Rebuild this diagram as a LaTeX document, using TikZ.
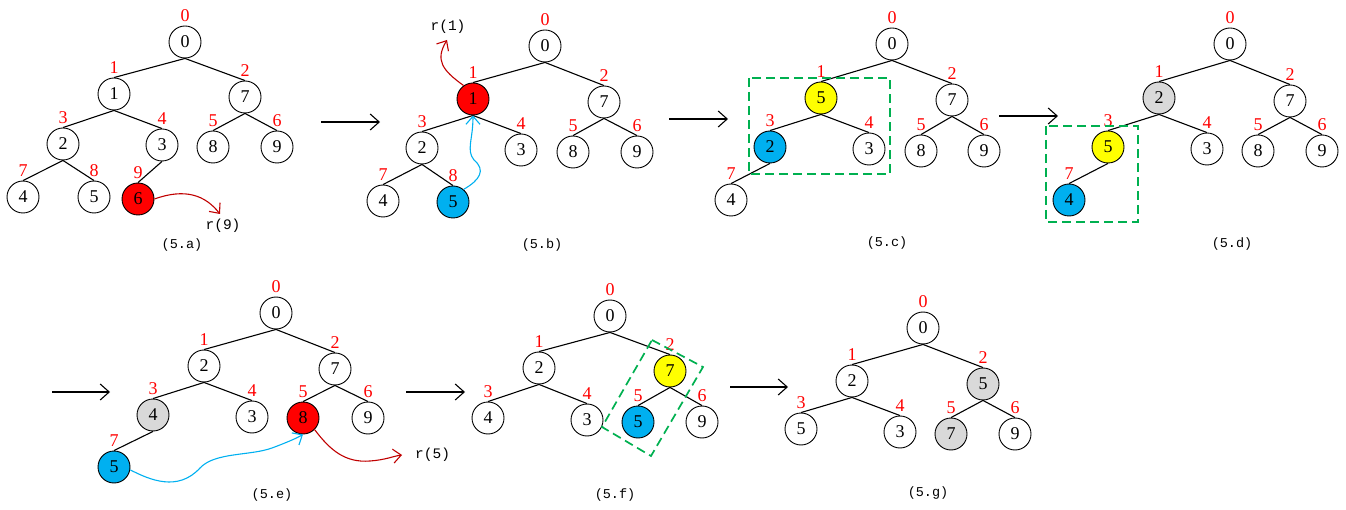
\documentclass[tikz,border=0pt]{standalone}
\usepackage{fontspec}
\setmainfont{Liberation Serif}
\newfontfamily\monof{Liberation Mono}
\usetikzlibrary{arrows.meta}
\definecolor{hred}{HTML}{FF0000}
\definecolor{dred}{HTML}{C00000}
\definecolor{hblue}{HTML}{00B0F0}
\definecolor{hyellow}{HTML}{FFFF00}
\definecolor{hgray}{HTML}{D9D9D9}
\definecolor{hgreen}{HTML}{00B050}
\tikzset{
  nd/.style={circle,draw=black,line width=0.9pt,minimum size=32pt,inner sep=0pt,font=\fontsize{18}{18}\selectfont},
  lbl/.style={text=hred,inner sep=0pt,font=\fontsize{18}{18}\selectfont,label distance=3.5pt},
  lab/.style={label={[lbl]90:#1}},
  rn/.style={nd,fill=hred},
  bn/.style={nd,fill=hblue},
  yn/.style={nd,fill=hyellow},
  gn/.style={nd,fill=hgray},
  edge/.style={draw=black,line width=1.1pt},
  bigarrow/.style={draw=black,line width=1.1pt,-{Straight Barb[length=9pt,width=16pt,line width=1.1pt]}},
  redarr/.style={draw=dred,line width=1.1pt,-{Straight Barb[length=8pt,width=14pt,line width=1.1pt]}},
  bluearr/.style={draw=hblue,line width=1.1pt,-{Straight Barb[length=8pt,width=14pt,line width=1.1pt]}},
  greenbox/.style={draw=hgreen,line width=1.7pt,dash pattern=on 9pt off 5pt},
  captxt/.style={font=\monof\fontsize{13.5}{13.5}\selectfont,inner sep=0pt},
  rtxt/.style={font=\monof\fontsize{14.5}{14.5}\selectfont,inner sep=0pt}
}
\begin{document}
\begin{tikzpicture}[x=1pt,y=-1pt]
\useasboundingbox (0,0) rectangle (1346,510);
% ---------- (5.a)
\node[nd,lab=0] (a0) at (185,42) {0};
\node[nd,lab=1] (a1) at (114,94) {1};
\node[nd,lab=2] (a2) at (245,97) {7};
\node[nd,lab=3] (a3) at (63,144) {2};
\node[nd,lab=4] (a4) at (162,145) {3};
\node[nd,lab=5] (a5) at (213,147) {8};
\node[nd,lab=6] (a6) at (277,147) {9};
\node[nd,lab=7] (a7) at (23,197) {4};
\node[nd,lab=8] (a8) at (94,197) {5};
\node[rn,lab=9] (a9) at (138,199) {6};
\foreach \p/\c in {a0/a1,a0/a2,a1/a3,a1/a4,a2/a5,a2/a6,a3/a7,a3/a8,a4/a9}
  \draw[edge] (\p.south) -- (\c.north);
\node[rtxt] (ra) at (223,226) {r(9)};
\coordinate (rae) at (220,214);
\draw[redarr] (a9.east) .. controls (185,188) and (205,195) .. (rae);
\node[captxt] (capa) at (182,245) {(5.a)};
% ---------- arrows row 1
\coordinate (s1) at (321,122); \coordinate (t1) at (380,122);
\draw[bigarrow] (s1) -- (t1);
\coordinate (s2) at (669,119); \coordinate (t2) at (728,119);
\draw[bigarrow] (s2) -- (t2);
\coordinate (s3) at (999,116); \coordinate (t3) at (1058,116);
\draw[bigarrow] (s3) -- (t3);
% ---------- (5.b)
\node[nd,lab=0] (b0) at (545,46) {0};
\node[rn,lab=1] (b1) at (473,99) {1};
\node[nd,lab=2] (b2) at (604,102) {7};
\node[nd,lab=3] (b3) at (422,148) {2};
\node[nd,lab=4] (b4) at (521,150) {3};
\node[nd,lab=5] (b5) at (573,152) {8};
\node[nd,lab=6] (b6) at (637,152) {9};
\node[nd,lab=7] (b7) at (383,201) {4};
\node[bn,lab=8] (b8) at (453,202) {5};
\foreach \p/\c in {b0/b1,b0/b2,b1/b3,b1/b4,b2/b5,b2/b6,b3/b7,b3/b8}
  \draw[edge] (\p.south) -- (\c.north);
\node[rtxt] (rb) at (448,27) {r(1)};
\coordinate (rbe) at (447,40);
\draw[redarr] (b1.125) .. controls (442,70) and (435,60) .. (rbe);
\draw[bluearr] (b8.50) .. controls (480,180) and (486,170) .. (474,160)
   .. controls (466,150) and (473,140) .. (b1.south);
\node[captxt] (capb) at (542,245) {(5.b)};
% ---------- (5.c)
\node[nd,lab=0] (c0) at (892,44) {0};
\node[yn,lab=1] (c1) at (821,98) {5};
\node[nd,lab=2] (c2) at (952,100) {7};
\node[bn,lab=3] (c3) at (770,147) {2};
\node[nd,lab=4] (c4) at (869,149) {3};
\node[nd,lab=5] (c5) at (921,151) {8};
\node[nd,lab=6] (c6) at (984,151) {9};
\node[nd,lab=7] (c7) at (731,200) {4};
\foreach \p/\c in {c0/c1,c0/c2,c1/c3,c1/c4,c2/c5,c2/c6,c3/c7}
  \draw[edge] (\p.south) -- (\c.north);
\draw[greenbox] (749,78) rectangle (890,174);
\node[captxt] (capc) at (887,243) {(5.c)};
% ---------- (5.d)
\node[nd,lab=0] (d0) at (1230,44) {0};
\node[gn,lab=1] (d1) at (1159,98) {2};
\node[nd,lab=2] (d2) at (1290,101) {7};
\node[yn,lab=3] (d3) at (1108,147) {5};
\node[nd,lab=4] (d4) at (1207,149) {3};
\node[nd,lab=5] (d5) at (1258,151) {8};
\node[nd,lab=6] (d6) at (1322,151) {9};
\node[bn,lab=7] (d7) at (1069,200) {4};
\foreach \p/\c in {d0/d1,d0/d2,d1/d3,d1/d4,d2/d5,d2/d6,d3/d7}
  \draw[edge] (\p.south) -- (\c.north);
\draw[greenbox] (1046,126) rectangle (1138,222);
\node[captxt] (capd) at (1232,244) {(5.d)};
% ---------- arrows row 2
\coordinate (s4) at (52,392); \coordinate (t4) at (110,392);
\draw[bigarrow] (s4) -- (t4);
\coordinate (s5) at (406,392); \coordinate (t5) at (465,392);
\draw[bigarrow] (s5) -- (t5);
\coordinate (s6) at (730,387); \coordinate (t6) at (788,387);
\draw[bigarrow] (s6) -- (t6);
% ---------- (5.e)
\node[nd,lab=0] (e0) at (276,313) {0};
\node[nd,lab=1] (e1) at (204,366) {2};
\node[nd,lab=2] (e2) at (335,369) {7};
\node[gn,lab=3] (e3) at (153,415) {4};
\node[nd,lab=4] (e4) at (252,417) {3};
\node[rn,lab=5] (e5) at (303,418) {8};
\node[nd,lab=6] (e6) at (368,418) {9};
\node[bn,lab=7] (e7) at (114,467) {5};
\foreach \p/\c in {e0/e1,e0/e2,e1/e3,e1/e4,e2/e5,e2/e6,e3/e7}
  \draw[edge] (\p.south) -- (\c.north);
\draw[bluearr] (e7.-10) .. controls (150,480) and (178,492) .. (200,468)
   .. controls (215,452) and (250,456) .. (272,448)
   .. controls (288,442) and (297,438) .. (e5.south);
\node[rtxt,anchor=west] (re) at (415,455) {r(5)};
\coordinate (ree) at (402,455);
\draw[redarr] (e5.-45) .. controls (330,450) and (345,463) .. (370,461)
   .. controls (385,460) and (394,456) .. (ree);
\node[captxt] (cape) at (272,495) {(5.e)};
% ---------- (5.f)
\node[nd,lab=0] (f0) at (610,316) {0};
\node[nd,lab=1] (f1) at (539,368) {2};
\node[yn,lab=2] (f2) at (670,371) {7};
\node[nd,lab=3] (f3) at (488,418) {4};
\node[nd,lab=4] (f4) at (587,420) {3};
\node[bn,lab=5] (f5) at (638,422) {5};
\node[nd,lab=6] (f6) at (702,422) {9};
\foreach \p/\c in {f0/f1,f0/f2,f1/f3,f1/f4,f2/f5,f2/f6}
  \draw[edge] (\p.south) -- (\c.north);
\draw[greenbox] (652,340) -- (703,367) -- (651,456) -- (602,427) -- cycle;
\node[captxt] (capf) at (615,495) {(5.f)};
% ---------- (5.g)
\node[nd,lab=0] (g0) at (923,328) {0};
\node[nd,lab=1] (g1) at (852,381) {2};
\node[gn,lab=2] (g2) at (983,384) {5};
\node[nd,lab=3] (g3) at (801,429) {5};
\node[nd,lab=4] (g4) at (900,432) {3};
\node[gn,lab=5] (g5) at (951,434) {7};
\node[nd,lab=6] (g6) at (1015,434) {9};
\foreach \p/\c in {g0/g1,g0/g2,g1/g3,g1/g4,g2/g5,g2/g6}
  \draw[edge] (\p.south) -- (\c.north);
\node[captxt] (capg) at (928,493) {(5.g)};
\end{tikzpicture}
\end{document}
